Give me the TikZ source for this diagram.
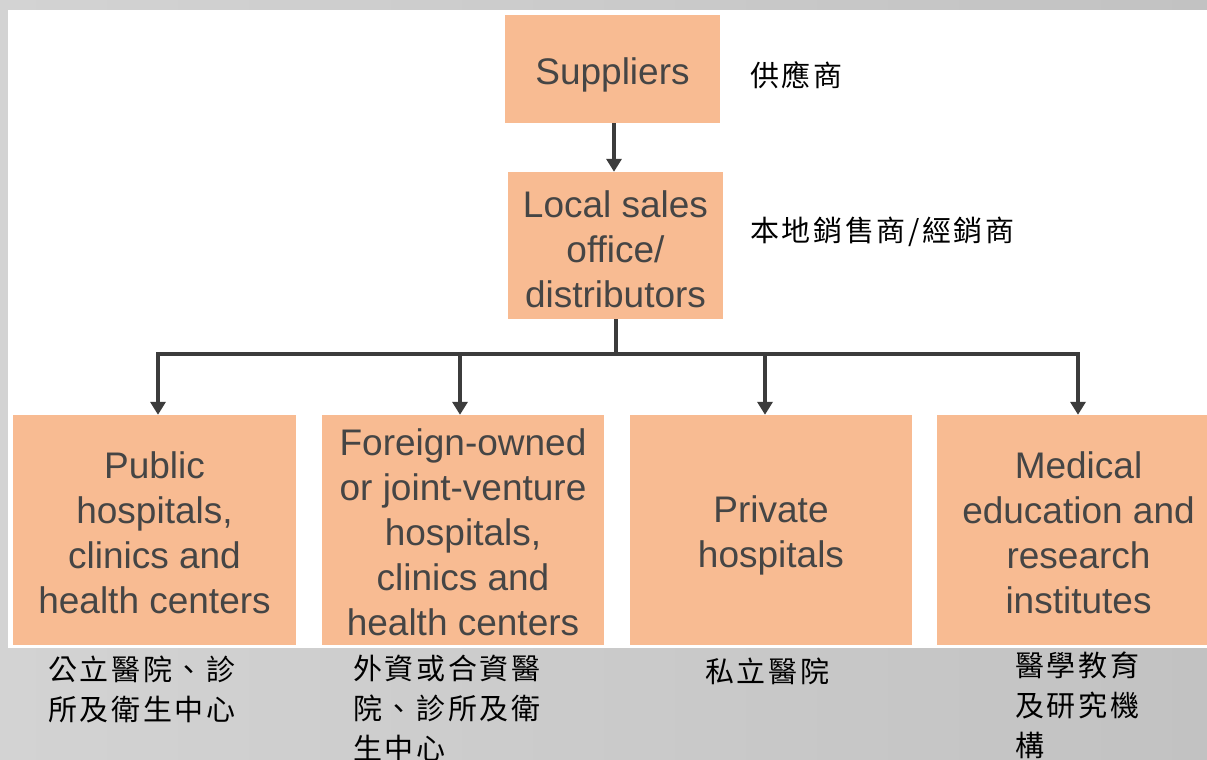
\documentclass[tikz,border=0pt]{standalone}
\usepackage{fontspec}
\setmainfont{Liberation Sans}
\newfontfamily\cjk[LetterSpace=9]{Noto Sans CJK TC}
\usetikzlibrary{arrows.meta}
\definecolor{boxfill}{HTML}{F8BB92}
\definecolor{boxtext}{HTML}{454545}
\definecolor{linec}{HTML}{3C3C3C}
\definecolor{bgl}{HTML}{D3D3D3}
\definecolor{bgr}{HTML}{C2C2C2}
\begin{document}
\begin{tikzpicture}[x=1pt,y=-1pt,
  box/.style={fill=boxfill, inner sep=0pt},
  boxtxt/.style={text=boxtext, inner sep=0pt, align=center,
    font=\fontsize{37}{45}\selectfont},
  arr/.style={draw=linec, line width=4pt, -{Triangle[width=15pt,length=13pt]}},
  bus/.style={draw=linec, line width=4pt, line cap=rect},
  cjklab/.style={anchor=north west, align=left, inner sep=0pt,
    font=\cjk\fontsize{29}{40}\selectfont}]
\useasboundingbox (0,0) rectangle (1207,760);
\clip (0,0) rectangle (1207,760);
\shade[left color=bgl, right color=bgr] (0,0) rectangle (1207,760);
\fill[white] (8,10) rectangle (1207,648);
% boxes
\node[box, minimum width=215pt, minimum height=108pt] (sup) at (612.5,69) {};
\node[box, minimum width=215pt, minimum height=147pt] (loc) at (615.5,245.5) {};
\node[box, minimum width=283pt, minimum height=230pt] (b1) at (154.5,530) {};
\node[box, minimum width=282pt, minimum height=230pt] (b2) at (463,530) {};
\node[box, minimum width=282pt, minimum height=230pt] (b3) at (771,530) {};
\node[box, minimum width=283pt, minimum height=230pt] (b4) at (1078.5,530) {};
% box texts
\node[boxtxt] (supt) at ([yshift=-6pt]sup.center) {Suppliers};
\node[boxtxt] (loct) at ([yshift=-4pt]loc.center) {Local sales\\office/\\distributors};
\node[boxtxt] (b1t) at ([yshift=-3pt]b1.center) {Public\\hospitals,\\clinics and\\health centers};
\node[boxtxt] (b2t) at ([yshift=-2pt]b2.center) {Foreign-owned\\or joint-venture\\hospitals,\\clinics and\\health centers};
\node[boxtxt] (b3t) at ([yshift=-5pt]b3.center) {Private\\hospitals};
\node[boxtxt] (b4t) at ([yshift=-3pt]b4.center) {Medical\\education and\\research\\institutes};
% connectors
\draw[arr] (sup.south -| 614,0) -- (loc.north -| 614,0);
\coordinate (j) at (616,354);
\coordinate (t1) at (158,354);
\coordinate (t2) at (460,354);
\coordinate (t3) at (765,354);
\coordinate (t4) at (1078,354);
\draw[draw=linec, line width=4pt] (loc.south -| j) -- (j);
\draw[bus] (t1) -- (t4);
\draw[arr] (t1) -- (t1 |- b1.north);
\draw[arr] (t2) -- (t2 |- b2.north);
\draw[arr] (t3) -- (t3 |- b3.north);
\draw[arr] (t4) -- (t4 |- b4.north);
% Chinese labels
\node[cjklab, anchor=west] (c0) at (750,75) {供應商};
\node[cjklab, anchor=west] (c1) at (750,232) {本地銷售商/經銷商};
\node[cjklab] (c2) at (48,656) {公立醫院、診\\所及衛生中心};
\node[cjklab] (c3) at (353,655) {外資或合資醫\\院、診所及衛\\生中心};
\node[cjklab] (c4) at (705,658) {私立醫院};
\node[cjklab] (c5) at (1015,652) {醫學教育\\及研究機\\構};
\end{tikzpicture}
\end{document}
